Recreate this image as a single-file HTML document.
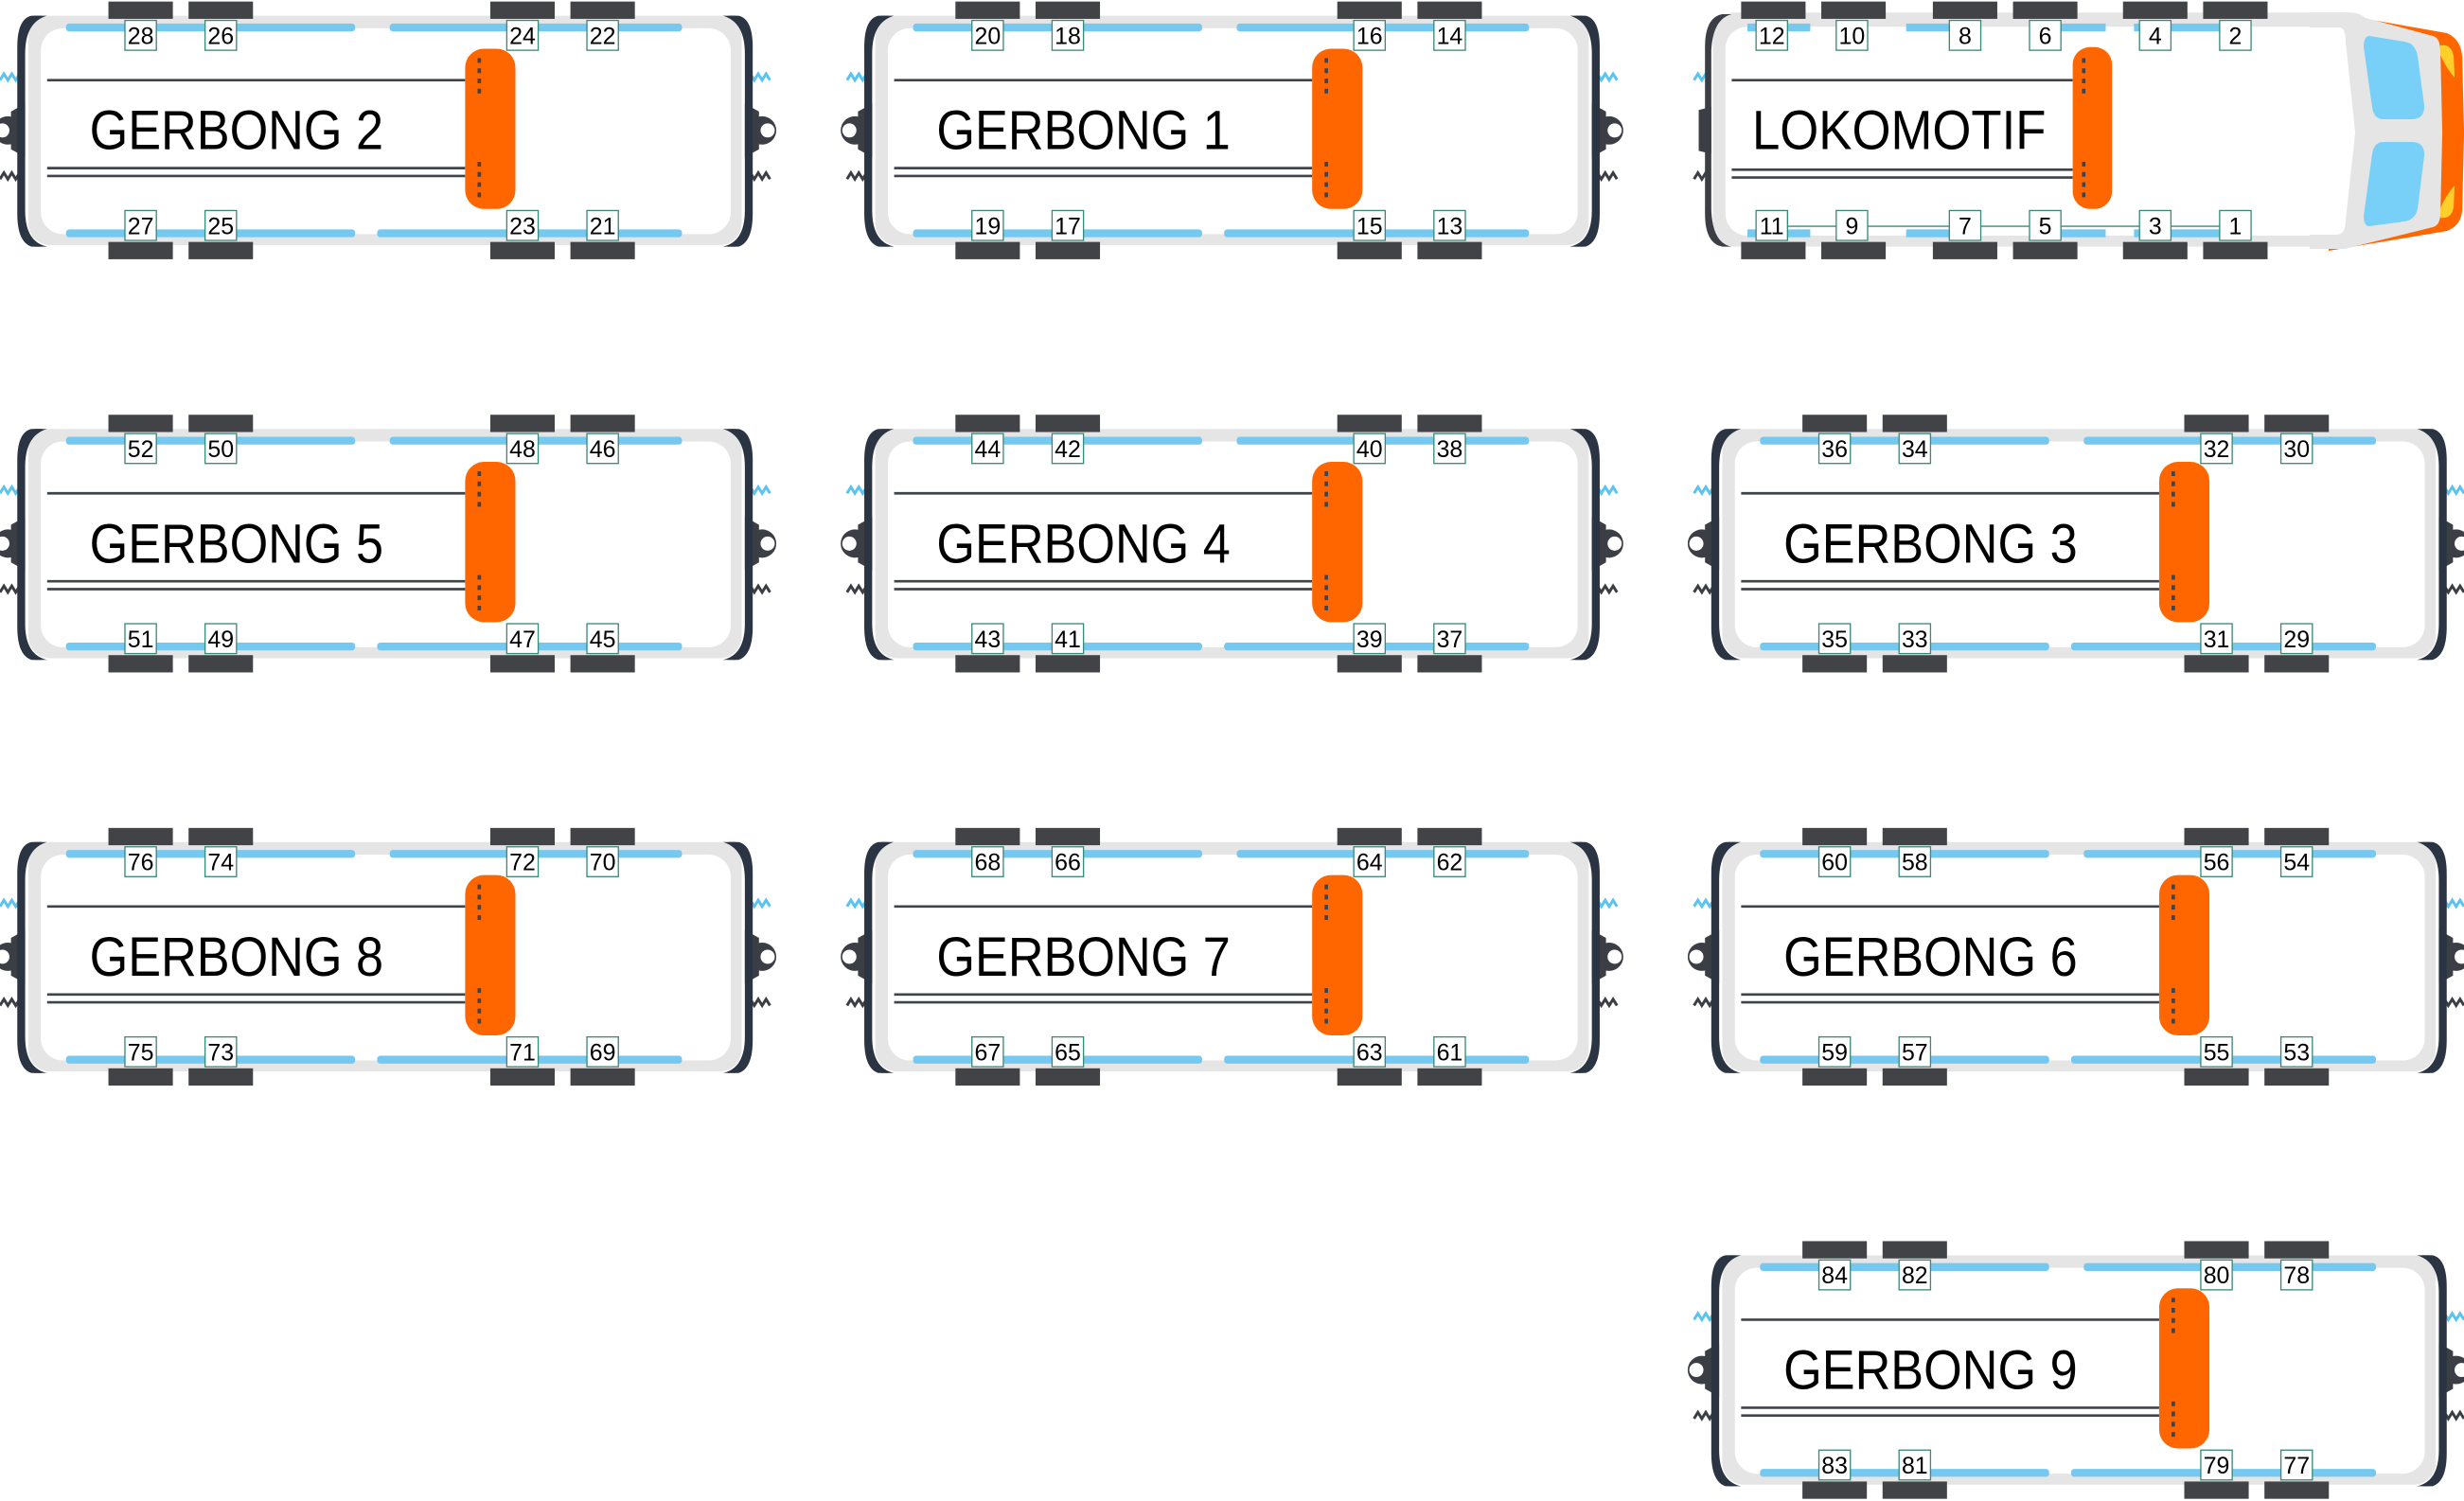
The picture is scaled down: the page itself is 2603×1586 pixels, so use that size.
<!DOCTYPE html>
<html><head><meta charset="utf-8"><style>
html,body{margin:0;padding:0;background:#fff;}
svg{display:block;}
text{font-family:"Liberation Sans",sans-serif;}
.lb{font-size:15px;text-anchor:middle;fill:#000;}
.tt{font-size:35px;fill:#000;}
</style></head><body>
<svg width="2603" height="1586" viewBox="0 0 1568 955.4" preserveAspectRatio="none" xmlns="http://www.w3.org/2000/svg">
<defs>
<g id="coupL">
  <path d="M0 51 l2.5 -4 l2.5 4 l2.5 -4 l2.5 4 l2.5 -4 l2.5 4" fill="none" stroke="#5bc3f0" stroke-width="1.8"/>
  <path d="M0 114 l2.5 -4 l2.5 4 l2.5 -4 l2.5 4 l2.5 -4 l2.5 4" fill="none" stroke="#3b3f45" stroke-width="1.8"/>
  <path d="M16 66 L7 71 L7 95 L16 100 Z" fill="#3b3f45"/>
  <circle cx="5" cy="83" r="9" fill="#3b3f45"/>
  <circle cx="1.5" cy="83" r="4.5" fill="#fff"/>
</g>
<g id="capL">
  <path d="M27 10 Q14 12 14 30 L13 138 Q14 155 27 157 L22 157 Q12 155 12 140 L12 28 Q12 12 22 10 Z" fill="#2b3442"/>
  <path d="M30 10 Q16 14 16 34 L16 134 Q16 154 30 157 L20 157 Q11 154 11 136 L11 30 Q11 12 20 10 Z" fill="#2b3442"/>
</g>
<g id="car">
  <use href="#coupL"/>
  <use href="#coupL" transform="translate(490,0) scale(-1,1)"/>
  <rect x="18" y="10" width="454" height="146" rx="14" fill="#e5e5e5"/>
  <use href="#capL"/>
  <use href="#capL" transform="translate(490,0) scale(-1,1)"/>
  <rect x="26" y="18" width="439" height="131" rx="14" fill="#fff"/>
  <rect x="42" y="15" width="184" height="5" rx="2" fill="#75c9f1"/>
  <rect x="248" y="15" width="186" height="5" rx="2" fill="#75c9f1"/>
  <rect x="42" y="146" width="184" height="5" rx="2" fill="#75c9f1"/>
  <rect x="240" y="146" width="194" height="5" rx="2" fill="#75c9f1"/>
  <g fill="#424347">
    <rect x="69" y="1" width="41" height="11"/><rect x="120" y="1" width="41" height="11"/>
    <rect x="312" y="1" width="41" height="11"/><rect x="363" y="1" width="41" height="11"/>
    <rect x="69" y="154" width="41" height="11"/><rect x="120" y="154" width="41" height="11"/>
    <rect x="312" y="154" width="41" height="11"/><rect x="363" y="154" width="41" height="11"/>
  </g>
  <g stroke="#3f434a" stroke-width="1.6">
    <line x1="30" y1="51" x2="296" y2="51"/>
    <line x1="30" y1="107" x2="296" y2="107"/>
    <line x1="30" y1="112" x2="296" y2="112"/>
  </g>
  <rect x="296" y="31" width="32" height="102" rx="12" fill="#ff6600"/>
  <line x1="305" y1="37" x2="305" y2="60" stroke="#3f434a" stroke-width="2.2" stroke-dasharray="3,3.5"/>
  <line x1="305" y1="103" x2="305" y2="128" stroke="#3f434a" stroke-width="2.2" stroke-dasharray="3,3.5"/>
  <g fill="#fff" stroke="#3a8a78" stroke-width="0.8">
    <rect x="79.5" y="13" width="20" height="19"/><rect x="130.5" y="13" width="20" height="19"/>
    <rect x="322.5" y="13" width="20" height="19"/><rect x="373.5" y="13" width="20" height="19"/>
    <rect x="79.5" y="134" width="20" height="19"/><rect x="130.5" y="134" width="20" height="19"/>
    <rect x="322.5" y="134" width="20" height="19"/><rect x="373.5" y="134" width="20" height="19"/>
  </g>
</g>
</defs>

<g transform="translate(0,0)"><use href="#car"/>
<text class="tt" x="57" y="95" textLength="187" lengthAdjust="spacingAndGlyphs">GERBONG 2</text>
<text class="lb" x="89.5" y="28">28</text><text class="lb" x="140.5" y="28">26</text><text class="lb" x="332.5" y="28">24</text><text class="lb" x="383.5" y="28">22</text>
<text class="lb" x="89.5" y="149">27</text><text class="lb" x="140.5" y="149">25</text><text class="lb" x="332.5" y="149">23</text><text class="lb" x="383.5" y="149">21</text></g>

<g transform="translate(539,0)"><use href="#car"/>
<text class="tt" x="57" y="95" textLength="187" lengthAdjust="spacingAndGlyphs">GERBONG 1</text>
<text class="lb" x="89.5" y="28">20</text><text class="lb" x="140.5" y="28">18</text><text class="lb" x="332.5" y="28">16</text><text class="lb" x="383.5" y="28">14</text>
<text class="lb" x="89.5" y="149">19</text><text class="lb" x="140.5" y="149">17</text><text class="lb" x="332.5" y="149">15</text><text class="lb" x="383.5" y="149">13</text></g>

<g transform="translate(1078,0)">
  <path d="M0 51 l2.5 -4 l2.5 4 l2.5 -4 l2.5 4" fill="none" stroke="#5bc3f0" stroke-width="1.8"/>
  <path d="M0 114 l2.5 -4 l2.5 4 l2.5 -4 l2.5 4" fill="none" stroke="#3b3f45" stroke-width="1.8"/>
  <path d="M3 70 L11 68 L11 98 L3 96 Z" fill="#3b3f45"/>
  <rect x="12" y="8" width="420" height="149" rx="14" fill="#e5e5e5"/>
  <path d="M24 9 Q12 12 11 32 L11 134 Q12 155 24 157 L18 157 Q7 155 7 136 L7 30 Q7 11 18 9 Z" fill="#3b3f45"/>
  <rect x="20" y="17" width="410" height="133" rx="14" fill="#fff"/>
</g>
<g transform="scale(0.6024)">
  <path d="M2460 13 L2585 35 Q2600 42 2601 60 L2603 140 L2601 222 Q2600 238 2585 244 L2460 265 Z" fill="#ff6600"/>
  <path d="M2440 13 L2477 13 L2570 38 Q2578 40 2578 55 L2580 140 L2578 225 Q2578 238 2570 240 L2477 263 L2440 263 Z" fill="#e5e5e5"/>
  <path d="M2420 29 L2472 29 Q2478 30 2478 45 L2488 140 L2478 232 Q2478 248 2468 248 L2420 248 Z" fill="#fff"/>
  <path d="M2503 38 L2540 44 Q2552 46 2554 60 L2561 112 Q2561 126 2548 126 L2518 126 Q2508 126 2506 114 L2497 50 Q2497 38 2503 38 Z" fill="#78cff8"/>
  <path d="M2518 150 L2548 150 Q2561 150 2561 164 L2554 220 Q2552 232 2540 234 L2503 239 Q2497 239 2497 228 L2506 162 Q2508 150 2518 150 Z" fill="#78cff8"/>
  <path d="M2578 48 Q2590 46 2592 60 L2593 82 Q2584 72 2578 58 Z" fill="#ffd02b"/>
  <path d="M2578 230 Q2590 232 2592 218 L2593 196 Q2584 206 2578 220 Z" fill="#ffd02b"/>
</g>
<g>
  <rect x="1112" y="15" width="40" height="5" fill="#75c9f1"/>
  <rect x="1213" y="15" width="44" height="5" fill="#75c9f1"/>
  <rect x="1296" y="15" width="44" height="5" fill="#75c9f1"/>
  <rect x="1358" y="15" width="62" height="5" fill="#75c9f1"/>
  <rect x="1112" y="146" width="40" height="5" fill="#75c9f1"/>
  <rect x="1213" y="146" width="44" height="5" fill="#75c9f1"/>
  <rect x="1296" y="146" width="44" height="5" fill="#75c9f1"/>
  <rect x="1358" y="146" width="62" height="5" fill="#75c9f1"/>
  <line x1="1127" y1="144" x2="1422" y2="144" stroke="#3a8a78" stroke-width="0.8"/>
  <g fill="#424347">
    <rect x="1108" y="1" width="41" height="11"/><rect x="1159" y="1" width="41" height="11"/>
    <rect x="1230" y="1" width="41" height="11"/><rect x="1281" y="1" width="41" height="11"/>
    <rect x="1351" y="1" width="41" height="11"/><rect x="1402" y="1" width="41" height="11"/>
    <rect x="1108" y="154" width="41" height="11"/><rect x="1159" y="154" width="41" height="11"/>
    <rect x="1230" y="154" width="41" height="11"/><rect x="1281" y="154" width="41" height="11"/>
    <rect x="1351" y="154" width="41" height="11"/><rect x="1402" y="154" width="41" height="11"/>
  </g>
  <g stroke="#3f434a" stroke-width="1.6">
    <line x1="1102" y1="51" x2="1319" y2="51"/>
    <line x1="1102" y1="108" x2="1319" y2="108"/>
    <line x1="1102" y1="113" x2="1319" y2="113"/>
  </g>
  <rect x="1319" y="30" width="25" height="103" rx="11" fill="#ff6600"/>
  <line x1="1326" y1="37" x2="1326" y2="60" stroke="#3f434a" stroke-width="2.2" stroke-dasharray="3,3.5"/>
  <line x1="1326" y1="103" x2="1326" y2="128" stroke="#3f434a" stroke-width="2.2" stroke-dasharray="3,3.5"/>
  <g fill="#fff" stroke="#3a8a78" stroke-width="0.8">
    <rect x="1117.5" y="13" width="20" height="19"/><rect x="1168.5" y="13" width="20" height="19"/>
    <rect x="1240.5" y="13" width="20" height="19"/><rect x="1291.5" y="13" width="20" height="19"/>
    <rect x="1361.5" y="13" width="20" height="19"/><rect x="1412.5" y="13" width="20" height="19"/>
    <rect x="1117.5" y="134" width="20" height="19"/><rect x="1168.5" y="134" width="20" height="19"/>
    <rect x="1240.5" y="134" width="20" height="19"/><rect x="1291.5" y="134" width="20" height="19"/>
    <rect x="1361.5" y="134" width="20" height="19"/><rect x="1412.5" y="134" width="20" height="19"/>
  </g>
  <text class="tt" x="1115" y="95" textLength="187" lengthAdjust="spacingAndGlyphs">LOKOMOTIF</text>
  <text class="lb" x="1127.5" y="28">12</text><text class="lb" x="1178.5" y="28">10</text><text class="lb" x="1250.5" y="28">8</text><text class="lb" x="1301.5" y="28">6</text><text class="lb" x="1371.5" y="28">4</text><text class="lb" x="1422.5" y="28">2</text>
  <text class="lb" x="1127.5" y="149">11</text><text class="lb" x="1178.5" y="149">9</text><text class="lb" x="1250.5" y="149">7</text><text class="lb" x="1301.5" y="149">5</text><text class="lb" x="1371.5" y="149">3</text><text class="lb" x="1422.5" y="149">1</text>
</g>

<g transform="translate(0,263)"><use href="#car"/>
<text class="tt" x="57" y="95" textLength="187" lengthAdjust="spacingAndGlyphs">GERBONG 5</text>
<text class="lb" x="89.5" y="28">52</text><text class="lb" x="140.5" y="28">50</text><text class="lb" x="332.5" y="28">48</text><text class="lb" x="383.5" y="28">46</text>
<text class="lb" x="89.5" y="149">51</text><text class="lb" x="140.5" y="149">49</text><text class="lb" x="332.5" y="149">47</text><text class="lb" x="383.5" y="149">45</text></g>
<g transform="translate(539,263)"><use href="#car"/>
<text class="tt" x="57" y="95" textLength="187" lengthAdjust="spacingAndGlyphs">GERBONG 4</text>
<text class="lb" x="89.5" y="28">44</text><text class="lb" x="140.5" y="28">42</text><text class="lb" x="332.5" y="28">40</text><text class="lb" x="383.5" y="28">38</text>
<text class="lb" x="89.5" y="149">43</text><text class="lb" x="140.5" y="149">41</text><text class="lb" x="332.5" y="149">39</text><text class="lb" x="383.5" y="149">37</text></g>
<g transform="translate(1078,263)"><use href="#car"/>
<text class="tt" x="57" y="95" textLength="187" lengthAdjust="spacingAndGlyphs">GERBONG 3</text>
<text class="lb" x="89.5" y="28">36</text><text class="lb" x="140.5" y="28">34</text><text class="lb" x="332.5" y="28">32</text><text class="lb" x="383.5" y="28">30</text>
<text class="lb" x="89.5" y="149">35</text><text class="lb" x="140.5" y="149">33</text><text class="lb" x="332.5" y="149">31</text><text class="lb" x="383.5" y="149">29</text></g>

<g transform="translate(0,526)"><use href="#car"/>
<text class="tt" x="57" y="95" textLength="187" lengthAdjust="spacingAndGlyphs">GERBONG 8</text>
<text class="lb" x="89.5" y="28">76</text><text class="lb" x="140.5" y="28">74</text><text class="lb" x="332.5" y="28">72</text><text class="lb" x="383.5" y="28">70</text>
<text class="lb" x="89.5" y="149">75</text><text class="lb" x="140.5" y="149">73</text><text class="lb" x="332.5" y="149">71</text><text class="lb" x="383.5" y="149">69</text></g>
<g transform="translate(539,526)"><use href="#car"/>
<text class="tt" x="57" y="95" textLength="187" lengthAdjust="spacingAndGlyphs">GERBONG 7</text>
<text class="lb" x="89.5" y="28">68</text><text class="lb" x="140.5" y="28">66</text><text class="lb" x="332.5" y="28">64</text><text class="lb" x="383.5" y="28">62</text>
<text class="lb" x="89.5" y="149">67</text><text class="lb" x="140.5" y="149">65</text><text class="lb" x="332.5" y="149">63</text><text class="lb" x="383.5" y="149">61</text></g>
<g transform="translate(1078,526)"><use href="#car"/>
<text class="tt" x="57" y="95" textLength="187" lengthAdjust="spacingAndGlyphs">GERBONG 6</text>
<text class="lb" x="89.5" y="28">60</text><text class="lb" x="140.5" y="28">58</text><text class="lb" x="332.5" y="28">56</text><text class="lb" x="383.5" y="28">54</text>
<text class="lb" x="89.5" y="149">59</text><text class="lb" x="140.5" y="149">57</text><text class="lb" x="332.5" y="149">55</text><text class="lb" x="383.5" y="149">53</text></g>

<g transform="translate(1078,789)"><use href="#car"/>
<text class="tt" x="57" y="95" textLength="187" lengthAdjust="spacingAndGlyphs">GERBONG 9</text>
<text class="lb" x="89.5" y="28">84</text><text class="lb" x="140.5" y="28">82</text><text class="lb" x="332.5" y="28">80</text><text class="lb" x="383.5" y="28">78</text>
<text class="lb" x="89.5" y="149">83</text><text class="lb" x="140.5" y="149">81</text><text class="lb" x="332.5" y="149">79</text><text class="lb" x="383.5" y="149">77</text></g>
</svg>
</body></html>
